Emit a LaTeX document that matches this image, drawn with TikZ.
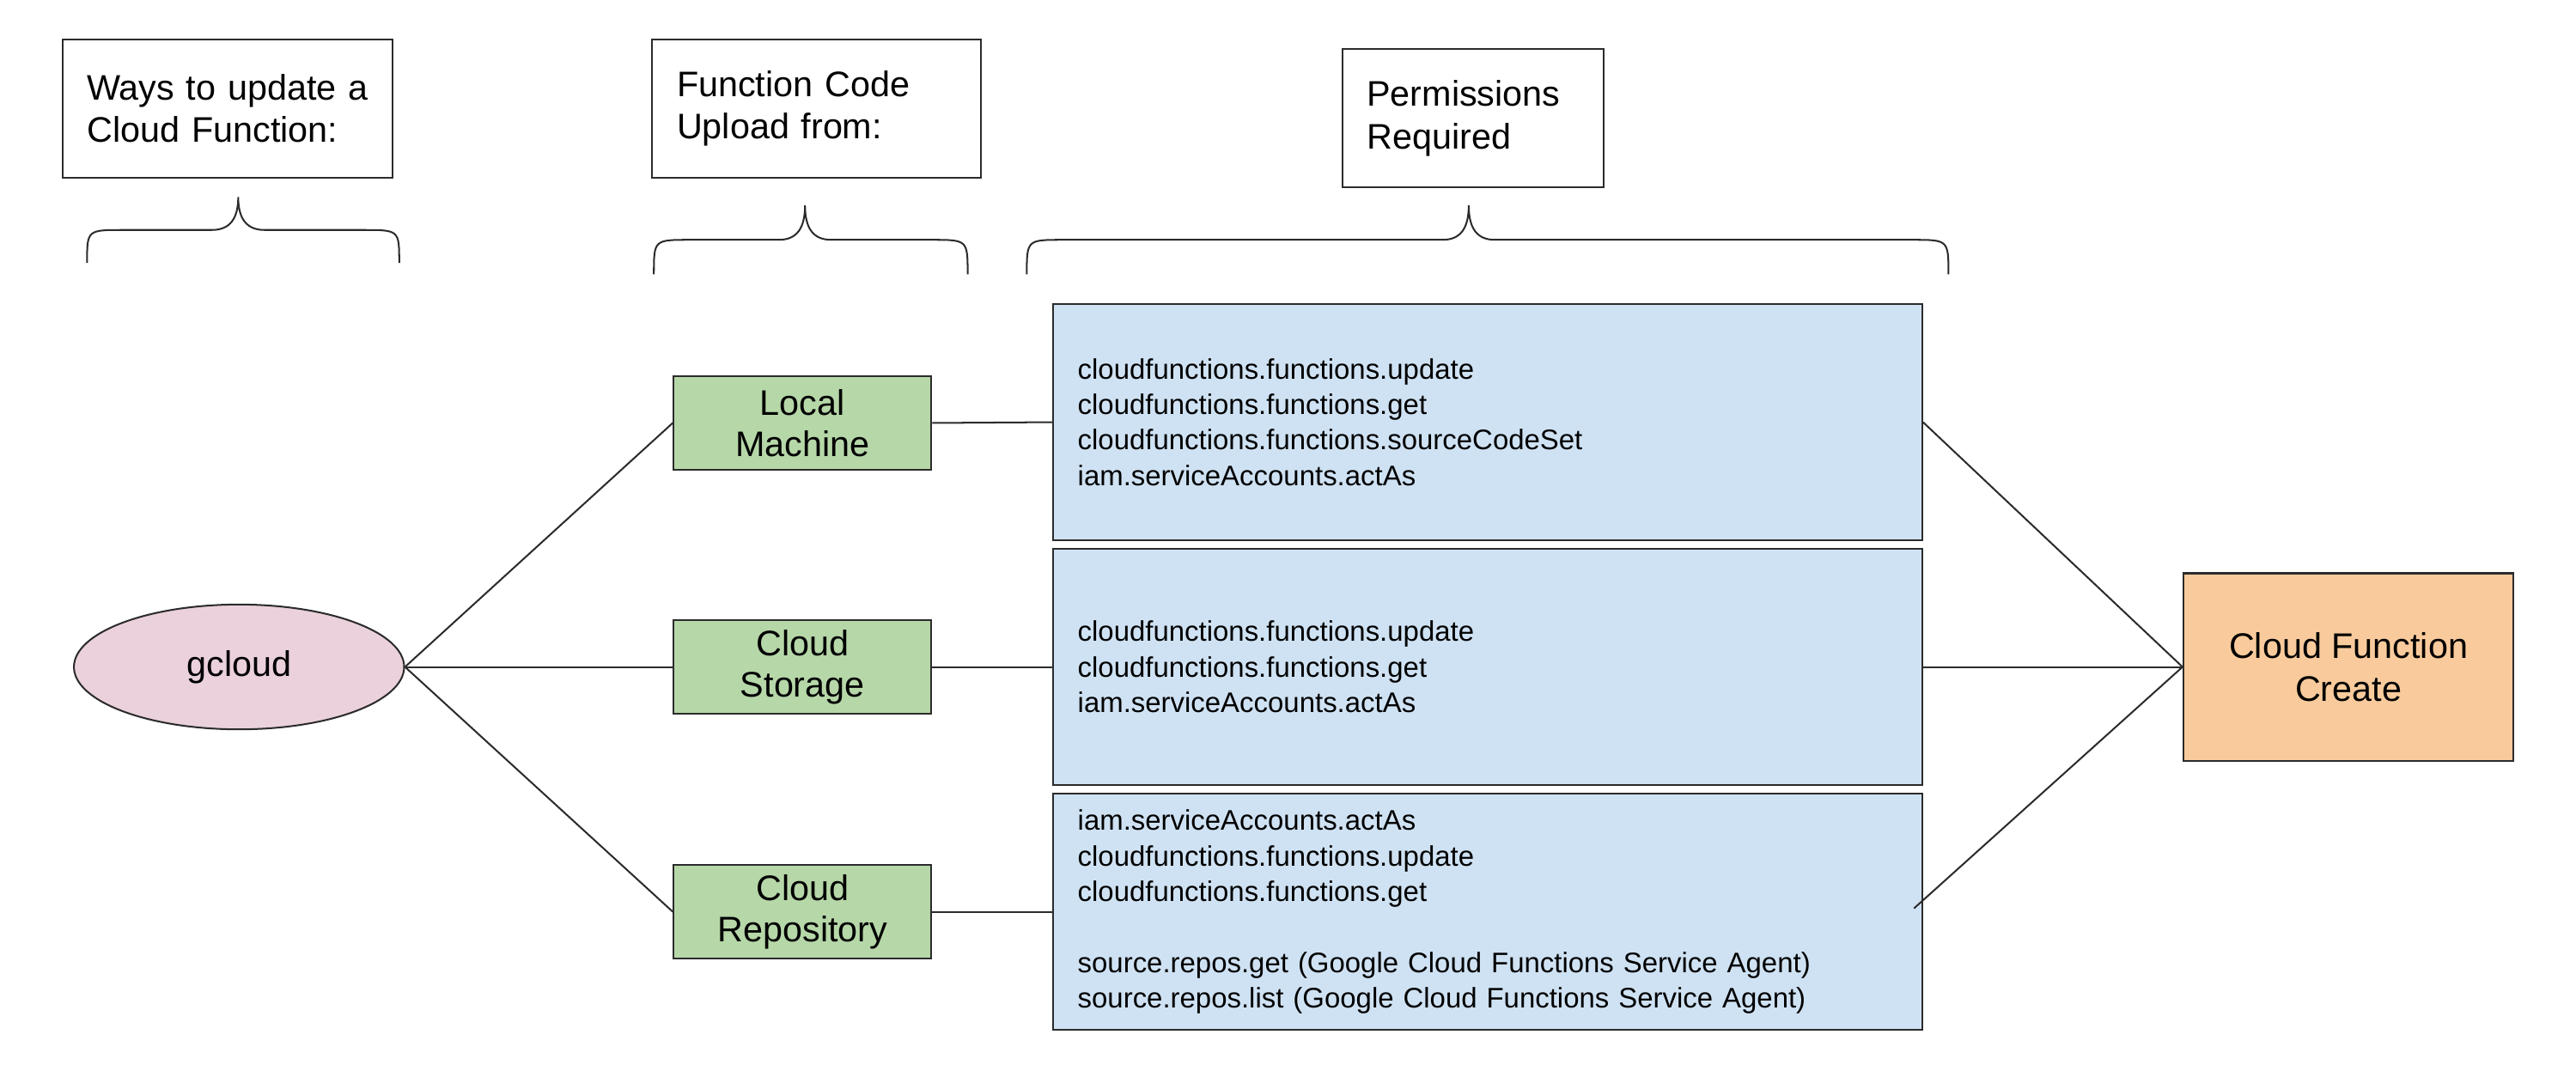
\documentclass[tikz,border=0pt]{standalone}
\usepackage{fontspec}
\setmainfont{Liberation Sans}
\usepackage{tikz}
\usepackage{tkz-euclide}
\usetikzlibrary{shapes.geometric}

\definecolor{borda}{HTML}{2B2B2B}
\definecolor{rosa}{HTML}{EAD1DC}
\definecolor{verde}{HTML}{B6D7A8}
\definecolor{azul}{HTML}{CFE2F3}
\definecolor{laranja}{HTML}{F9CB9C}

\begin{document}
\begin{tikzpicture}[
  caixa/.style={draw=borda, line width=0.6pt, rectangle, inner xsep=0.3cm, inner ysep=0pt},
  cabecalho/.style={caixa, align=left, minimum height=1.68cm, font=\fontsize{12.3}{14.8}\selectfont},
  origem/.style={caixa, ellipse, fill=rosa, minimum width=4.02cm, minimum height=1.52cm, inner sep=0pt, font=\fontsize{12.3}{14.8}\selectfont},
  envio/.style={caixa, fill=verde, align=center, minimum width=3.14cm, minimum height=1.14cm, font=\fontsize{12.3}{14.2}\selectfont},
  permissao/.style={caixa, fill=azul, align=left, text width=9.98cm, minimum height=2.88cm, font=\fontsize{9.8}{12.3}\selectfont},
  destino/.style={caixa, fill=laranja, align=center, minimum width=4.02cm, minimum height=2.28cm, font=\fontsize{12.3}{14.8}\selectfont},
  ligacao/.style={draw=borda, line width=0.6pt},
  chave/.style={draw=borda, line width=0.6pt}]

\useasboundingbox (0,0) rectangle (31.36,12.96);

%O comando \tkzDefPoints define os centros das caixas (x/y/NomedoPonto)
\tkzDefPoints{
2.77/11.64/A,
9.94/11.64/B,
17.93/11.52/C,
2.91/4.84/D,
9.77/7.81/E,
9.77/4.84/F,
9.77/1.86/G,
18.11/7.82/H,
18.11/4.84/I,
18.11/1.86/J,
28.59/4.84/K,
23.30/1.90/X}

%Caixas de titulo de cada coluna, com o texto alinhado a esquerda
%---------------------------------------------------
\node[cabecalho, text width=3.42cm] (ways) at (A) {\mbox{Ways to update a}\\Cloud Function:};
\node[cabecalho, text width=3.40cm] (upload) at (B) {Function Code\\Upload from:};
\node[cabecalho, text width=2.58cm] (perms) at (C) {Permissions\\Required};
%---------------------------------------------------

%Chaves abaixo dos titulos, desenhadas com curvas de Bezier
%---------------------------------------------------
\draw[chave] (1.06,9.76) .. controls (1.06,10.16) .. (1.50,10.16) -- (2.58,10.16) .. controls (2.80,10.16) and (2.90,10.30) .. (2.90,10.56) .. controls (2.90,10.30) and (3.00,10.16) .. (3.22,10.16) -- (4.42,10.16) .. controls (4.86,10.16) .. (4.86,9.76);
\draw[chave] (7.96,9.62) .. controls (7.96,10.04) .. (8.40,10.04) -- (9.48,10.04) .. controls (9.70,10.04) and (9.80,10.18) .. (9.80,10.46) .. controls (9.80,10.18) and (9.90,10.04) .. (10.12,10.04) -- (11.34,10.04) .. controls (11.78,10.04) .. (11.78,9.62);
\draw[chave] (12.50,9.62) .. controls (12.50,10.04) .. (12.94,10.04) -- (17.56,10.04) .. controls (17.78,10.04) and (17.88,10.18) .. (17.88,10.46) .. controls (17.88,10.18) and (17.98,10.04) .. (18.20,10.04) -- (23.28,10.04) .. controls (23.72,10.04) .. (23.72,9.62);
%---------------------------------------------------

%Elipse de origem e caixas verdes de onde o codigo e enviado
%---------------------------------------------------
\node[origem] (gcloud) at (D) {gcloud};
\node[envio] (local) at (E) {Local\\Machine};
\node[envio] (storage) at (F) {Cloud\\Storage};
\node[envio] (repo) at (G) {Cloud\\Repository};
%---------------------------------------------------

%Caixas azuis com as permissoes de cada caminho
%---------------------------------------------------
\node[permissao] (perm1) at (H) {cloudfunctions.functions.update\\cloudfunctions.functions.get\\cloudfunctions.functions.sourceCodeSet\\iam.serviceAccounts.actAs};
\node[permissao] (perm2) at (I) {cloudfunctions.functions.update\\cloudfunctions.functions.get\\iam.serviceAccounts.actAs};
\node[permissao] (perm3) at (J) {iam.serviceAccounts.actAs\\cloudfunctions.functions.update\\cloudfunctions.functions.get\\\mbox{}\\source.repos.get (Google Cloud Functions Service Agent)\\source.repos.list (Google Cloud Functions Service Agent)};
%---------------------------------------------------

%Caixa laranja de destino
%---------------------------------------------------
\node[destino] (create) at (K) {Cloud Function\\Create};
%---------------------------------------------------

%Ligacoes entre as caixas
%---------------------------------------------------
\draw[ligacao] (gcloud.east) -- (local.west);
\draw[ligacao] (gcloud.east) -- (storage.west);
\draw[ligacao] (gcloud.east) -- (repo.west);
\draw[ligacao] (local.east) -- (perm1.west);
\draw[ligacao] (storage.east) -- (perm2.west);
\draw[ligacao] (repo.east) -- (perm3.west);
\draw[ligacao] (perm1.east) -- (create.west);
\draw[ligacao] (perm2.east) -- (create.west);
\draw[ligacao] (X) -- (create.west);
%---------------------------------------------------

\end{tikzpicture}
\end{document}
